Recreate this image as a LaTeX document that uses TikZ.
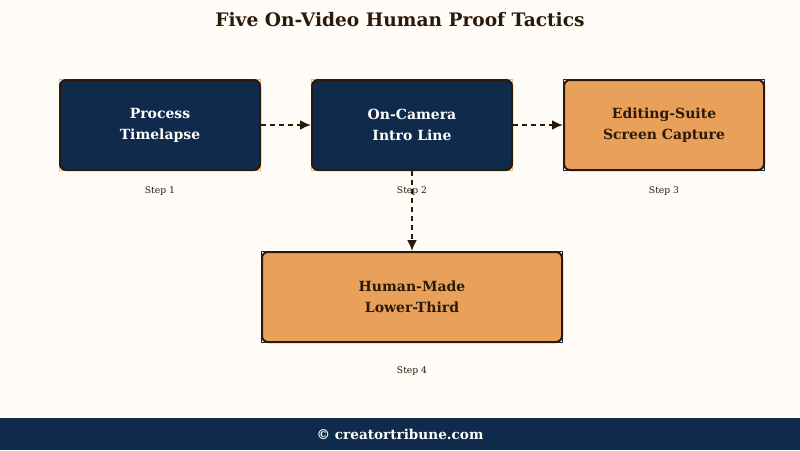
\documentclass[tikz,border=0pt]{standalone}
\usepackage{fontspec}
\setmainfont{DejaVu Serif}
\usepackage{tikz}
\usetikzlibrary{arrows.meta}

\definecolor{navy}{HTML}{0F2A4A}
\definecolor{tan}{HTML}{E8A05A}
\definecolor{ink}{HTML}{2A1A0A}
\definecolor{paper}{HTML}{FFFCF7}

\begin{document}
\begin{tikzpicture}[x=1pt,y=-1pt,>={Latex[length=11pt,width=10pt]}]
      \tikzstyle{frame}=[draw,line width=1.2pt,minimum width=201pt,minimum height=91pt];
      \tikzstyle{dark}=[rounded corners=6pt,draw=ink,line width=2pt,fill=navy,text=white,
        minimum width=200pt,minimum height=90pt,align=center,font=\bfseries\fontsize{14}{21}\selectfont];
      \tikzstyle{light}=[dark,fill=tan,text=ink];
      \tikzstyle{lbl}=[font=\fontsize{9.2}{11}\selectfont,text=ink];
      \tikzstyle{link}=[->,draw=ink,line width=2pt,dash pattern=on 5pt off 4pt];

      \fill[paper] (0,0) rectangle (800,450);
      \useasboundingbox (0,0) rectangle (800,450);

      \node[font=\bfseries\fontsize{18.6}{20}\selectfont,text=ink](T) at (400,20) {Five On-Video Human Proof Tactics};

      % sharp frames behind the rounded boxes
      \node[frame,draw=tan!80!white] at (160,125) {};
      \node[frame,draw=tan!80!white] at (412,125) {};
      \node[frame,draw=navy] at (664,125) {};
      \node[frame,draw=navy,minimum width=301pt] at (412,297) {};

      \node[dark](A) at (160,125) {Process\\Timelapse};
      \node[dark](B) at (412,125) {On-Camera\\Intro Line};
      \node[light](C) at (664,125) {Editing-Suite\\Screen Capture};
      \node[light,minimum width=300pt](D) at (412,297) {Human-Made\\Lower-Third};

      \node[lbl](a) at (160,191) {Step 1};
      \node[lbl](b) at (412,191) {Step 2};
      \node[lbl](c) at (664,191) {Step 3};
      \node[lbl](d) at (412,371) {Step 4};

      \path[link] (A) -- (B);
      \path[link] (B) -- (C);
      \path[link] (B) -- (D);

      \fill[navy] (0,418) rectangle (800,450);
      \node[font=\bfseries\fontsize{13.6}{15}\selectfont,text=white](F) at (400,434) {© creatortribune.com};

    \end{tikzpicture}
\end{document}
